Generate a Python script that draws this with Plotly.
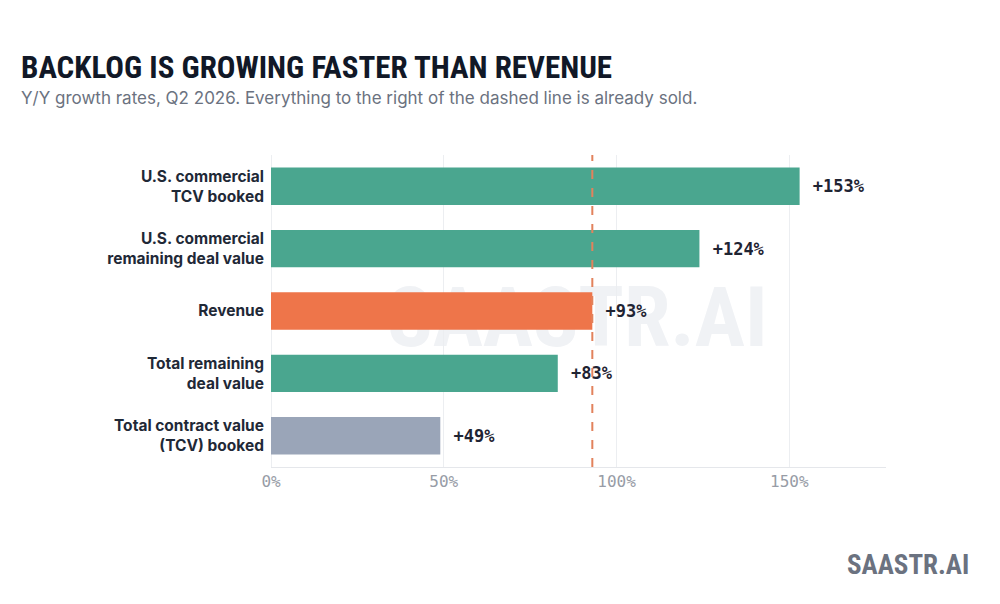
import plotly.graph_objects as go

labels = [
    "U.S. commercial<br>TCV booked",
    "U.S. commercial<br>remaining deal value",
    "Revenue",
    "Total remaining<br>deal value",
    "Total contract value<br>(TCV) booked",
]
growth = [153, 124, 93, 83, 49]
bar_colors = ["#4aa68f", "#4aa68f", "#ee754a", "#4aa68f", "#9aa5b8"]
tick_vals = [0, 50, 100, 150]
tick_text = ["0%", "50%", "100%", "150%"]
revenue_growth = growth[labels.index("Revenue")]

# page body adds an 8px margin, so screen = figure + 8
OFF = 8
# plot box in screen pixels
L, R, T, B = 271, 886, 155, 467
W, H = R - L, B - T


def px(x):
    return (x - L) / W


def py(y):
    return (B - y) / H


cond = "Roboto Condensed, Roboto, sans-serif"
mono = "DejaVu Sans Mono, Liberation Mono, monospace"

fig = go.Figure()
fig.add_trace(go.Bar(
    y=labels, x=growth, orientation="h",
    marker=dict(color=bar_colors, line_width=0),
    text=[f"\u00a0+{v}%" for v in growth], textposition="outside",
    textfont=dict(family=mono, size=17, color="#1f2433", weight="bold"),
    cliponaxis=False, hoverinfo="skip",
))

fig.add_shape(type="line", xref="x", yref="paper", x0=revenue_growth, x1=revenue_growth,
              y0=0, y1=1, line=dict(color="#e2825c", width=2, dash="dash"), layer="above")

# watermark behind the bars
fig.add_shape(type="rect", xref="paper", yref="paper", x0=px(380), x1=px(775), y0=py(360), y1=py(262),
              line_width=0, fillcolor="rgba(0,0,0,0)", layer="below",
              label=dict(text="SAASTR.AI", font=dict(family=cond, size=84, color="#f0f2f5", weight="bold"),
                         textposition="middle center"))

fig.add_annotation(text="BACKLOG IS GROWING FASTER THAN REVENUE", xref="paper", yref="paper",
                   x=px(19), y=py(88), xanchor="left", yanchor="bottom", showarrow=False,
                   font=dict(family=cond, size=31, color="#111827", weight="bold"))
fig.add_annotation(text="Y/Y growth rates, Q2 2026. Everything to the right of the dashed line is already sold.",
                   xref="paper", yref="paper", x=px(19), y=py(110), xanchor="left", yanchor="bottom",
                   showarrow=False, font=dict(family="Inter, sans-serif", size=17, color="#6b7280"))
fig.add_annotation(text="SAASTR.AI", xref="paper", yref="paper", x=px(971), y=py(583),
                   xanchor="right", yanchor="bottom", showarrow=False,
                   font=dict(family=cond, size=27, color="#6b7280", weight="bold"))

fig.update_xaxes(range=[0, 178], tickvals=tick_vals, ticktext=tick_text,
                 tickfont=dict(family=mono, size=16, color="#979ca6"),
                 showgrid=True, gridcolor="#eceef1", gridwidth=1,
                 zeroline=True, zerolinecolor="#eceef1", zerolinewidth=1,
                 showline=True, linecolor="#e5e7eb", linewidth=1, ticks="", fixedrange=True)
fig.update_yaxes(autorange="reversed",
                 tickfont=dict(family="Inter, sans-serif", size=15.5, color="#1f2937", weight="bold"),
                 ticks="", ticklabelstandoff=6, fixedrange=True)
fig.update_layout(width=1000, height=604,
                  margin=dict(l=L - OFF, r=1000 - (R - OFF), t=T - OFF, b=604 - (B - OFF)),
                  paper_bgcolor="white", plot_bgcolor="white", bargap=0.4, showlegend=False)

fig.write_html("out.html")
